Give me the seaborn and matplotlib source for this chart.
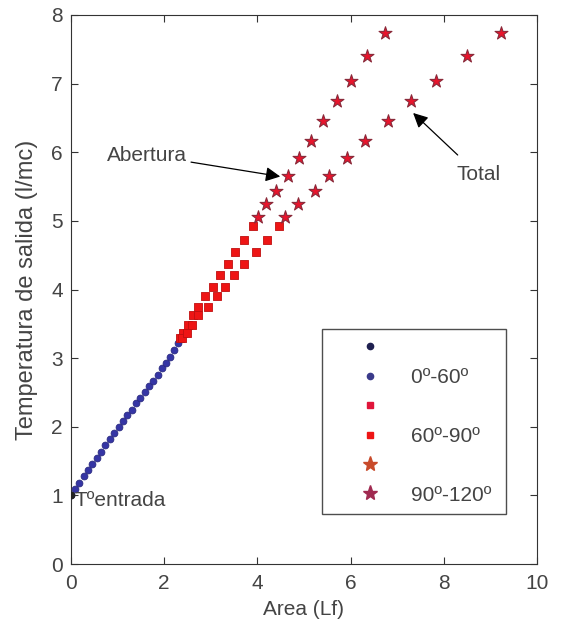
import numpy as np
import pandas as pd
import seaborn as sns
import matplotlib.pyplot as plt
from matplotlib.lines import Line2D

# 0-60 deg (common branch)
blue_x = [0.0, 0.09, 0.18, 0.28, 0.37, 0.46, 0.56, 0.65, 0.74, 0.83, 0.93, 1.02, 1.11,
          1.21, 1.30, 1.39, 1.48, 1.58, 1.67, 1.76, 1.86, 1.95, 2.04, 2.13, 2.22, 2.30]
blue_y = [1.00, 1.09, 1.18, 1.28, 1.37, 1.46, 1.55, 1.64, 1.73, 1.82, 1.91, 2.00, 2.08,
          2.17, 2.25, 2.34, 2.42, 2.51, 2.59, 2.67, 2.76, 2.85, 2.93, 3.02, 3.12, 3.22]

# 60-90 deg
sq_y = [3.30, 3.36, 3.48, 3.63, 3.75, 3.90, 4.04, 4.21, 4.37, 4.55, 4.72, 4.93]
sq_ab_x = [2.35, 2.41, 2.52, 2.62, 2.73, 2.88, 3.05, 3.20, 3.38, 3.53, 3.71, 3.90]
sq_tot_x = [2.38, 2.48, 2.60, 2.73, 2.93, 3.13, 3.30, 3.50, 3.71, 3.97, 4.20, 4.46]

# 90-120 deg
st_y = [5.06, 5.25, 5.43, 5.66, 5.91, 6.16, 6.45, 6.74, 7.04, 7.40, 7.74]
st_ab_x = [4.02, 4.18, 4.41, 4.66, 4.89, 5.15, 5.41, 5.70, 6.02, 6.35, 6.74]
st_tot_x = [4.59, 4.88, 5.24, 5.54, 5.92, 6.32, 6.80, 7.29, 7.84, 8.51, 9.23]

plt.rcParams['font.family'] = ['Liberation Sans', 'DejaVu Sans']
FS = 15

fig = plt.figure(figsize=(5.61, 6.24), dpi=100)
ax = fig.add_axes([0.1266, 0.096, 0.8304, 0.880])

blue = pd.DataFrame({"x": blue_x, "y": blue_y})
sq_ab = pd.DataFrame({"x": sq_ab_x, "y": sq_y})
sq_tot = pd.DataFrame({"x": sq_tot_x, "y": sq_y})
st_ab = pd.DataFrame({"x": st_ab_x, "y": st_y})
st_tot = pd.DataFrame({"x": st_tot_x, "y": st_y})

sns.scatterplot(data=blue, x="x", y="y", ax=ax, marker="o", s=24,
                color="#3535a5", edgecolor="#2a2a80", linewidth=0.6, zorder=3)
sns.scatterplot(data=sq_ab, x="x", y="y", ax=ax, marker="s", s=28,
                color="#ee1515", edgecolor="#c01010", linewidth=0.6, zorder=3)
sns.scatterplot(data=sq_tot, x="x", y="y", ax=ax, marker="s", s=28,
                color="#ee1515", edgecolor="#c01010", linewidth=0.6, zorder=3)
sns.scatterplot(data=st_ab, x="x", y="y", ax=ax, marker="*", s=95,
                color="#e8142c", edgecolor="#8a2a3a", linewidth=0.8, zorder=3)
sns.scatterplot(data=st_tot, x="x", y="y", ax=ax, marker="*", s=95,
                color="#e8142c", edgecolor="#8a2a3a", linewidth=0.8, zorder=3)
ax.plot([0], [1], "o", color="#222222", ms=4.5, zorder=4)

ax.set_xlim(0, 10)
ax.set_ylim(0, 8)
ax.set_xticks([0, 2, 4, 6, 8, 10])
ax.set_yticks(range(9))
ax.tick_params(direction="in", top=True, right=True, labelsize=FS,
               length=5, colors="#333333", labelcolor="#444444")
ax.tick_params(axis="x", pad=7)
ax.tick_params(axis="y", pad=6)
for sp in ax.spines.values():
    sp.set_color("#333333")
ax.set_xlabel("Area (Lf)", fontsize=FS, color="#444444", labelpad=5)
ax.set_ylabel("Temperatura de salida (l/mc)", fontsize=17, color="#444444")
ax.yaxis.set_label_coords(-0.071, 0.5)

ax.text(0.08, 0.92, "Tºentrada", fontsize=FS, va="center", ha="left", color="#444444")
ax.annotate("Abertura", xy=(4.55, 5.64), xytext=(0.77, 5.96), fontsize=FS,
            va="center", color="#444444",
            arrowprops=dict(arrowstyle="-|>", color="black", lw=0.9, mutation_scale=22,
                            shrinkA=1))
ax.annotate("Total", xy=(7.3, 6.6), xytext=(8.28, 5.67), fontsize=FS,
            va="center", color="#444444",
            arrowprops=dict(arrowstyle="-|>", color="black", lw=0.9, mutation_scale=22,
                            shrinkA=8))

handles = [
    Line2D([], [], ls="", marker="o", ms=4.5, color="#1f2050"),
    Line2D([], [], ls="", marker="o", ms=4.5, color="#3a3a8a"),
    Line2D([], [], ls="", marker="s", ms=5, color="#e0153a"),
    Line2D([], [], ls="", marker="s", ms=5, color="#ee1515"),
    Line2D([], [], ls="", marker="*", ms=11, color="#c84a2a"),
    Line2D([], [], ls="", marker="*", ms=11, color="#a02a50"),
]
labels = [" ", "0º-60º", " ", "60º-90º", " ", "90º-120º"]
leg = ax.legend(handles, labels, loc="lower left", bbox_to_anchor=(0.539, 0.091),
                fontsize=FS, frameon=True, fancybox=False, edgecolor="#222222",
                labelspacing=0.5, handletextpad=0.1, borderpad=0.45, borderaxespad=0,
                handlelength=3.7)
for t in leg.get_texts():
    t.set_color("#444444")
    t.set_text(t.get_text() + " ")
leg.get_frame().set_linewidth(1.0)

fig.savefig("out.png", dpi=100)
